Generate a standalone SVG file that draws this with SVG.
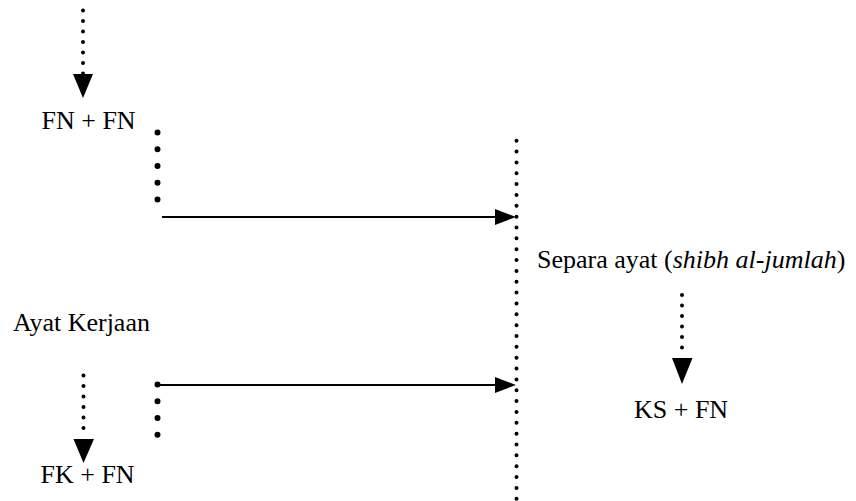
<svg xmlns="http://www.w3.org/2000/svg" width="856" height="501" viewBox="0 0 856 501">
<style>
  text { font-family: "Liberation Serif", "Times New Roman", serif; font-size: 26px; fill: #000; }
  .small { stroke: #000; stroke-width: 4; stroke-linecap: round; stroke-dasharray: 0 10.5; fill: none; }
  .smallv { stroke: #000; stroke-width: 4; stroke-linecap: round; stroke-dasharray: 0 10.85; fill: none; }
  .big { stroke: #000; stroke-width: 6; stroke-linecap: round; stroke-dasharray: 0 16.75; fill: none; }
  .line { stroke: #000; stroke-width: 2; fill: none; }
  .head { fill: #000; }
</style>
<rect width="856" height="501" fill="#fff"/>
<g id="connectors">
  <!-- top dotted arrow into FN + FN -->
  <line class="small" x1="83" y1="10.5" x2="83" y2="74"/>
  <polygon class="head" points="73,74 93,74 83,98"/>
  <!-- upper large-dot column and arrow -->
  <line class="big" x1="157.5" y1="132.5" x2="157.5" y2="200"/>
  <line class="line" x1="162" y1="217" x2="497" y2="217"/>
  <polygon class="head" points="495,209 495,225 516,217"/>
  <!-- right vertical dotted line -->
  <line class="smallv" x1="516.5" y1="140.7" x2="516.5" y2="510"/>
  <!-- lower large-dot column and arrow -->
  <line class="big" x1="157.5" y1="384.5" x2="157.5" y2="451.5"/>
  <line class="line" x1="157.5" y1="385" x2="497" y2="385"/>
  <polygon class="head" points="495,377 495,393 516,385"/>
  <!-- lower-left dotted arrow into FK + FN -->
  <line class="small" x1="83.5" y1="375.5" x2="83.5" y2="437"/>
  <polygon class="head" points="73.5,439 94,439 83.5,463"/>
  <!-- right dotted arrow into KS + FN -->
  <line class="small" x1="682" y1="295" x2="682" y2="358"/>
  <polygon class="head" points="672,358 692.5,358 682,384"/>
</g>
<g id="node-fn-fn"><text x="41.5" y="129">FN + FN</text></g>
<g id="node-ayat-kerjaan"><text x="13" y="331">Ayat Kerjaan</text></g>
<g id="node-fk-fn"><text x="40.5" y="483">FK + FN</text></g>
<g id="node-separa-ayat"><text x="537" y="268">Separa ayat (<tspan font-style="italic">shibh al-jumlah</tspan>)</text></g>
<g id="node-ks-fn"><text x="634" y="418">KS + FN</text></g>
</svg>
